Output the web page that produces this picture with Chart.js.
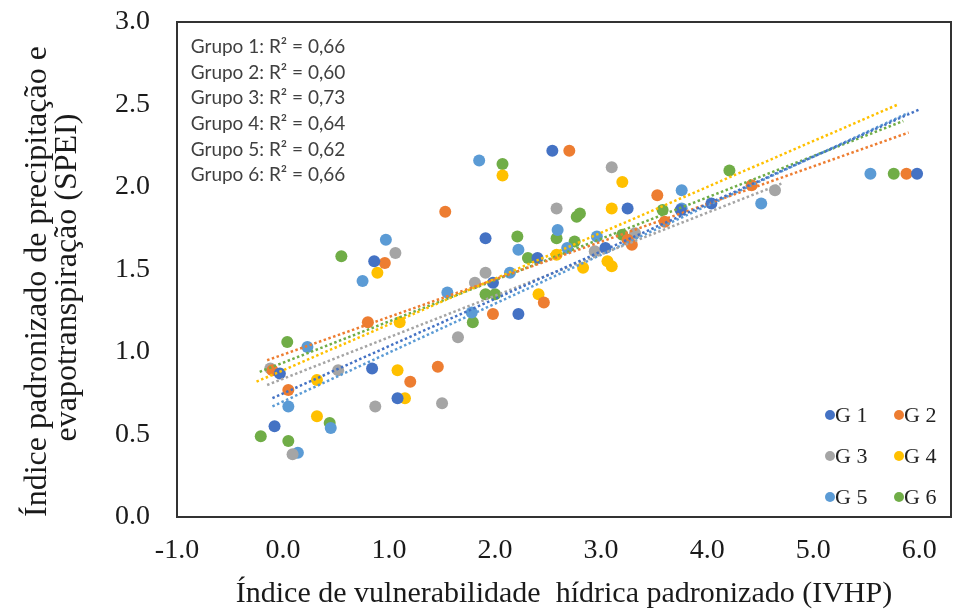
<!DOCTYPE html>
<html>
<head>
<meta charset="utf-8">
<script src="https://cdn.jsdelivr.net/npm/chart.js@4.4.1/dist/chart.umd.min.js"></script>
<style>
  body { margin: 0; background: #fff; }
</style>
</head>
<body>
<canvas id="chart" width="957" height="613"></canvas>
<script>
// groups
const groupNames = ['G1', 'G2', 'G3', 'G4', 'G5', 'G6'];
const groupColors = ['#4472C4', '#ED7D31', '#A5A5A5', '#FFC000', '#5B9BD5', '#70AD47'];
const r2Labels = ['Grupo 1: R² = 0,66', 'Grupo 2: R² = 0,60', 'Grupo 3: R² = 0,73',
  'Grupo 4: R² = 0,64', 'Grupo 5: R² = 0,62', 'Grupo 6: R² = 0,66'];

// points (IVHP, SPEI)
const g1X = [2.54, 3.25, 4.04, 5.98, 3.75, 1.91, 3.04, 2.40, 1.98, 2.22, 0.86, -0.03, 0.84, 1.08, -0.08];
const g1Y = [2.22, 1.87, 1.90, 2.08, 1.86, 1.69, 1.63, 1.57, 1.42, 1.23, 1.55, 0.87, 0.90, 0.72, 0.55];
const g2X = [2.70, 1.53, 3.53, 4.42, 5.88, 3.60, 3.25, 3.29, 2.46, 1.98, 0.96, 0.80, -0.10, 0.05, 1.46, 1.20];
const g2Y = [2.22, 1.85, 1.95, 2.01, 2.08, 1.79, 1.68, 1.65, 1.30, 1.23, 1.54, 1.18, 0.89, 0.77, 0.91, 0.82];
const g3X = [3.10, 2.58, 4.64, 1.06, 1.81, 1.91, 2.94, 1.65, 0.52, 0.87, 1.50, -0.12, 0.09, 3.32];
const g3Y = [2.12, 1.87, 1.98, 1.60, 1.42, 1.48, 1.61, 1.09, 0.89, 0.67, 0.69, 0.90, 0.38, 1.72];
const g4X = [2.07, 3.20, 3.10, 2.58, 2.83, 3.06, 3.10, 2.41, 0.89, 1.10, 1.08, 0.32, 1.15, 0.32];
const g4Y = [2.07, 2.03, 1.87, 1.59, 1.51, 1.55, 1.52, 1.35, 1.48, 1.18, 0.89, 0.83, 0.72, 0.61];
const g5X = [1.85, 3.76, 4.51, 5.54, 2.22, 2.59, 2.68, 2.96, 2.14, 1.55, 1.78, 0.97, 0.75, 0.23, 0.05, 0.45, 0.14, 3.76];
const g5Y = [2.16, 1.98, 1.90, 2.08, 1.62, 1.74, 1.63, 1.70, 1.48, 1.36, 1.24, 1.68, 1.43, 1.03, 0.67, 0.54, 0.39, 1.87];
const g6X = [2.07, 4.21, 5.76, 2.77, 2.80, 3.58, 2.21, 2.58, 2.75, 2.31, 1.91, 2.00, 1.79, 0.55, 0.04, 0.44, -0.21, 0.05, 3.20];
const g6Y = [2.14, 2.10, 2.08, 1.82, 1.84, 1.86, 1.70, 1.69, 1.67, 1.57, 1.35, 1.35, 1.18, 1.58, 1.06, 0.57, 0.49, 0.46, 1.71];

// linear trend lines, start and end of each
const trendX0 = [-0.10, -0.15, -0.15, -0.25, -0.10, -0.22];
const trendY0 = [0.72, 0.95, 0.80, 0.82, 0.67, 0.88];
const trendX1 = [6.00, 5.90, 4.70, 5.80, 5.90, 5.85];
const trendY1 = [2.47, 2.33, 2.02, 2.50, 2.45, 2.40];

const xTicks = [-1, 0, 1, 2, 3, 4, 5, 6];

const groupXs = [g1X, g2X, g3X, g4X, g5X, g6X];
const groupYs = [g1Y, g2Y, g3Y, g4Y, g5Y, g6Y];

let datasets = [];
groupNames.forEach((name, i) => {
  datasets.push({
    type: 'scatter',
    label: name,
    data: groupXs[i].map((x, k) => ({ x: x, y: groupYs[i][k] })),
    backgroundColor: groupColors[i],
    borderColor: groupColors[i],
    borderWidth: 0,
    pointRadius: 6,
    order: 1
  });
});
groupNames.forEach((name, i) => {
  datasets.push({
    type: 'line',
    label: 'trend ' + name,
    data: [{ x: trendX0[i], y: trendY0[i] }, { x: trendX1[i], y: trendY1[i] }],
    borderColor: groupColors[i],
    borderWidth: 2.5,
    borderDash: [2.5, 2.5],
    pointRadius: 0,
    fill: false,
    order: 0
  });
});

// box round the plot area, R2 notes and the legend inside it
const plotExtras = {
  id: 'plotExtras',
  afterDatasetsDraw(chart) {
    const { ctx, chartArea } = chart;
    ctx.save();
    ctx.strokeStyle = '#333';
    ctx.lineWidth = 2;
    ctx.strokeRect(chartArea.left, chartArea.top, chartArea.right - chartArea.left, chartArea.bottom - chartArea.top);

    ctx.fillStyle = '#404040';
    ctx.font = '19px Lato';
    ctx.textAlign = 'center';
    ctx.textBaseline = 'middle';
    r2Labels.forEach((t, i) => {
      ctx.fillText(t, 268, 47 + i * 25.6);
    });

    ctx.font = '22px "Liberation Serif"';
    ctx.textAlign = 'left';
    groupNames.forEach((name, i) => {
      const cx = 830 + (i % 2) * 69;
      const cy = 415 + Math.floor(i / 2) * 41;
      ctx.beginPath();
      ctx.arc(cx, cy, 5, 0, Math.PI * 2);
      ctx.fillStyle = groupColors[i];
      ctx.fill();
      ctx.fillStyle = '#222';
      ctx.fillText(name.split('').join(' '), cx + 5, cy + 1);
    });
    ctx.restore();
  }
};

new Chart(document.getElementById('chart'), {
  data: { datasets: datasets },
  options: {
    responsive: false,
    animation: false,
    layout: { padding: { top: 22, right: 3, left: 0, bottom: 0 } },
    plugins: {
      legend: { display: false },
      tooltip: { enabled: false }
    },
    scales: {
      x: {
        type: 'linear',
        min: -1,
        max: 6.3,
        afterFit: s => { s.height = 96; s.paddingLeft = 0; s.paddingRight = 0; },
        afterBuildTicks: s => { s.ticks = xTicks.map(v => ({ value: v })); },
        grid: { display: false, drawTicks: false },
        border: { display: false },
        ticks: {
          padding: 17,
          color: '#1a1a1a',
          font: { family: 'Liberation Serif', size: 28 },
          callback: v => v.toFixed(1)
        },
        title: {
          display: true,
          text: 'Índice de vulnerabilidade  hídrica padronizado (IVHP)',
          color: '#1a1a1a',
          font: { family: 'Liberation Serif', size: 30, lineHeight: 1.1 },
          padding: { top: 0, bottom: 2 }
        }
      },
      y: {
        type: 'linear',
        min: 0,
        max: 3,
        afterFit: s => { s.width = 177; s.paddingTop = 0; s.paddingBottom = 0; },
        grid: { display: false, drawTicks: false },
        border: { display: false },
        ticks: {
          stepSize: 0.5,
          padding: 27,
          color: '#1a1a1a',
          font: { family: 'Liberation Serif', size: 28 },
          callback: v => v.toFixed(1)
        },
        title: {
          display: true,
          // trailing spaces nudge the centred lines a little lower, as in the original
          text: ['Índice padronizado de precipitação e   ', 'evapotranspiração (SPEI)  '],
          color: '#1a1a1a',
          font: { family: 'Liberation Serif', size: 32, lineHeight: 0.92 },
          padding: { top: 23, bottom: 0 }
        }
      }
    }
  },
  plugins: [plotExtras]
});
</script>
</body>
</html>
